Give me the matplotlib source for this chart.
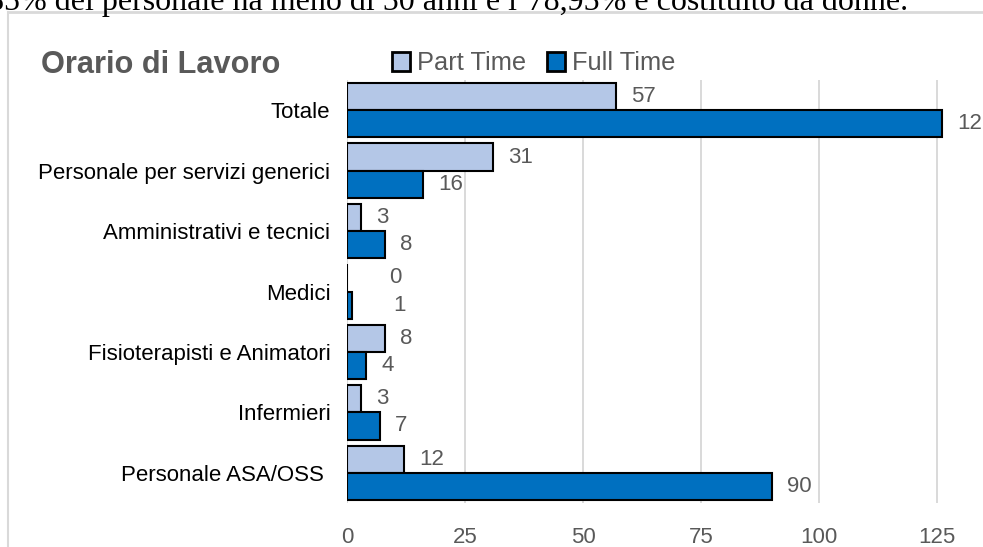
import matplotlib
matplotlib.use("Agg")
import matplotlib.pyplot as plt
from matplotlib.patches import Patch
from matplotlib.lines import Line2D
from matplotlib import font_manager as fm
import numpy as np

categories = ["Totale", "Personale per servizi generici", "Amministrativi e tecnici",
              "Medici", "Fisioterapisti e Animatori", "Infermieri", "Personale ASA/OSS "]
part_time = [57, 31, 3, 0, 8, 3, 12]
full_time = [126, 16, 8, 1, 4, 7, 90]
xticks = [0, 25, 50, 75, 100, 125]
title = "Orario di Lavoro"
series_names = ["Part Time", "Full Time"]
top_text = "85% del personale ha meno di 50 anni e l\u201978,95% è costituito da donne."

names = {f.name for f in fm.fontManager.ttflist}
narrow = "Liberation Sans Narrow" if "Liberation Sans Narrow" in names else "Liberation Sans"
scale = 1.0 if narrow == "Liberation Sans Narrow" else 0.82

PT_COLOR = "#B4C7E7"
FT_COLOR = "#0070C0"
GRAY = "#595959"
GRID = "#D9D9D9"

fig = plt.figure(figsize=(9.83, 5.47), dpi=100)
W, H = 983, 547
ax = fig.add_axes([347 / W, 1 - 503 / H, (W - 347) / W, (503 - 80) / H])

y = np.arange(len(categories))
h = 0.45
ax.barh(y - h / 2, part_time, height=h, color=PT_COLOR, edgecolor="black", linewidth=1.5, zorder=3)
ax.barh(y + h / 2, full_time, height=h, color=FT_COLOR, edgecolor="black", linewidth=1.5, zorder=3)

xmax = (W - 347) / 4.72
ax.set_xlim(0, xmax)
ax.set_ylim(len(categories) - 0.5, -0.5)
ax.set_xticks(xticks)
ax.set_xticklabels([str(t) for t in xticks], fontfamily=narrow, fontsize=19.5 * scale, color=GRAY)
ax.set_yticks(y)
ax.set_yticklabels(categories, fontfamily=narrow, fontsize=19.5 * scale, color="black")
ax.tick_params(axis="both", length=0)
ax.tick_params(axis="x", pad=17)
ax.tick_params(axis="y", pad=12)
ax.grid(axis="x", color=GRID, linewidth=1.4, zorder=0)
for s in ax.spines.values():
    s.set_visible(False)
ax.set_facecolor("none")

label_off = {3: 19}
for i, (p, f) in enumerate(zip(part_time, full_time)):
    off = 11 + label_off.get(i, 0)
    ax.annotate(str(p), (p, i - h / 2), xytext=(off, 0), textcoords="offset points",
                va="center", ha="left", fontfamily=narrow, fontsize=19.5 * scale, color=GRAY,
                annotation_clip=False)
    ax.annotate(str(f), (f, i + h / 2), xytext=(off, 0), textcoords="offset points",
                va="center", ha="left", fontfamily=narrow, fontsize=19.5 * scale, color=GRAY,
                annotation_clip=False)

# chart frame
fig.add_artist(Line2D([8 / W, 8 / W], [0, 1 - 12 / H], color=GRID, lw=1.5))
fig.add_artist(Line2D([8 / W, 1], [1 - 12 / H, 1 - 12 / H], color=GRID, lw=2))

fig.text(41 / W, 1 - 73 / H, title, fontfamily=narrow, fontweight="bold", fontsize=27 * scale,
         color=GRAY, va="baseline", ha="left")

handles = [Patch(facecolor=PT_COLOR, edgecolor="black", linewidth=2),
           Patch(facecolor=FT_COLOR, edgecolor="black", linewidth=2)]
leg = fig.legend(handles, series_names, loc="center left", bbox_to_anchor=(392 / W, 1 - 63 / H),
                 frameon=False, ncol=2, handlelength=0.72, handleheight=0.78, handletextpad=0.28,
                 columnspacing=0.8, borderpad=0, borderaxespad=0,
                 prop={"family": narrow, "size": 22.3 * scale})
for t in leg.get_texts():
    t.set_color(GRAY)

fig.text(-12 / W, 1 - 10 / H, top_text, fontfamily="Liberation Serif", fontsize=23,
         color="black", va="baseline", ha="left")

fig.savefig("out.png", dpi=100)
